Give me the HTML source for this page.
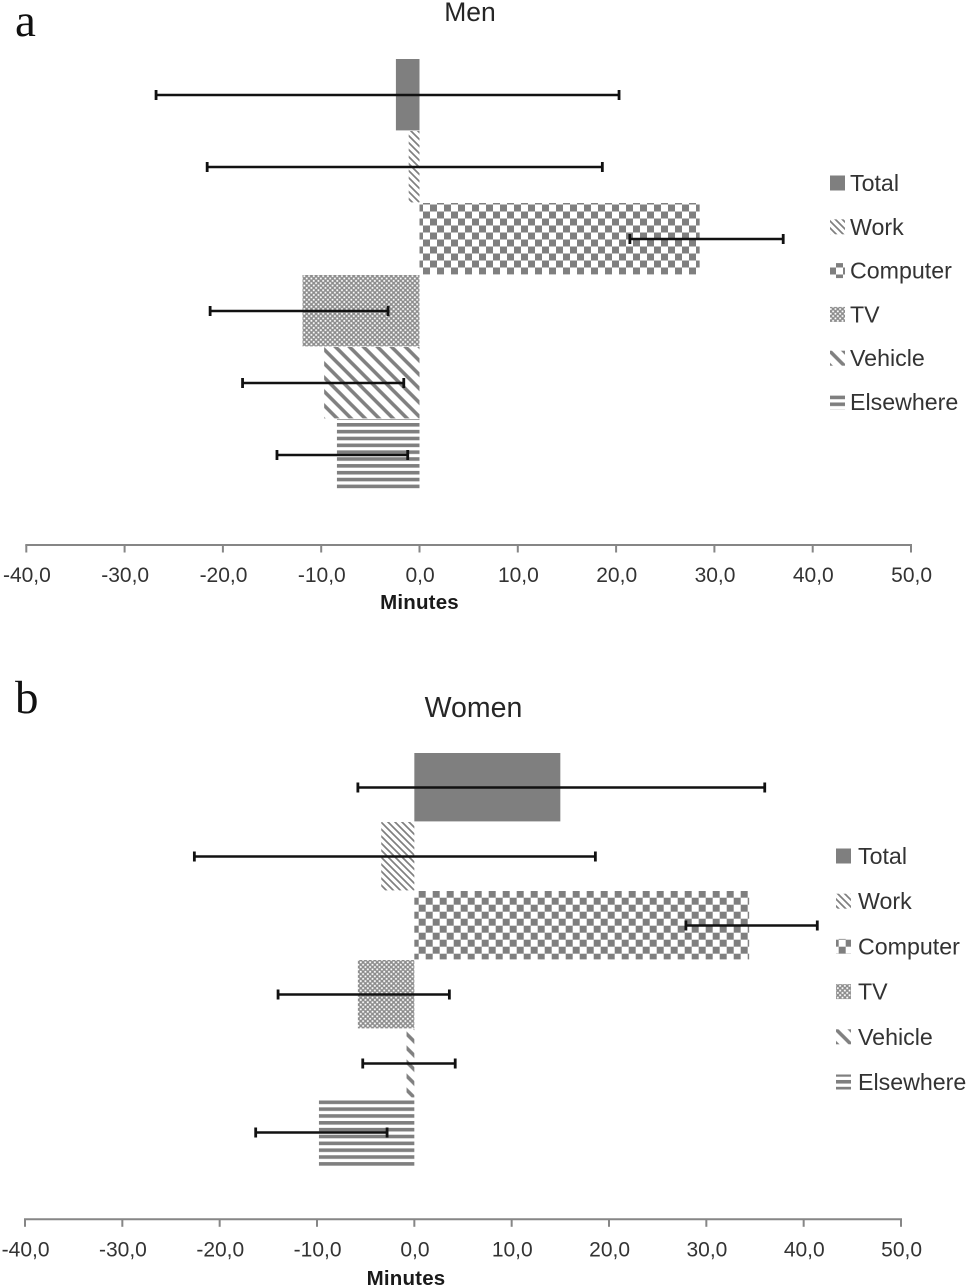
<!DOCTYPE html>
<html>
<head>
<meta charset="utf-8">
<title>Men and Women minutes chart</title>
<style>
html,body{margin:0;padding:0;background:#fff;}
svg{display:block;filter:blur(0.3px);}
text{font-family:"Liberation Sans",sans-serif;fill:#262626;}
</style>
</head>
<body>
<svg id="chart" xmlns="http://www.w3.org/2000/svg" width="967" height="1288" viewBox="0 0 967 1288">
<defs>
<pattern id="p-total" patternUnits="userSpaceOnUse" width="4" height="4"><rect width="4" height="4" fill="#7f7f7f"/></pattern>
<pattern id="p-work" patternUnits="userSpaceOnUse" width="7" height="7"><rect width="7" height="7" fill="#fff"/><path d="M0,0L7,7M-1,6L1,8M6,-1L8,1" stroke="#808080" stroke-width="1.7" fill="none"/></pattern>
<pattern id="p-computer-men" patternUnits="userSpaceOnUse" width="14" height="14" x="416" y="204.5"><rect width="14" height="14" fill="#fff"/><rect x="0" y="0" width="7" height="7" fill="#7f7f7f"/><rect x="7" y="7" width="7" height="7" fill="#7f7f7f"/></pattern>
<pattern id="p-computer-women" patternUnits="userSpaceOnUse" width="14" height="14" x="411.7" y="897.7"><rect width="14" height="14" fill="#fff"/><rect x="0" y="0" width="7" height="7" fill="#7f7f7f"/><rect x="7" y="7" width="7" height="7" fill="#7f7f7f"/></pattern>
<pattern id="p-tv" patternUnits="userSpaceOnUse" width="4.7" height="4.7"><rect width="4.7" height="4.7" fill="#8c8c8c"/><rect x="0.3" y="0.3" width="1.8" height="1.8" fill="#fff"/><rect x="2.65" y="2.65" width="1.8" height="1.8" fill="#fff"/></pattern>
<pattern id="p-vehicle" patternUnits="userSpaceOnUse" width="14" height="14" x="2.7" y="0"><rect width="14" height="14" fill="#fff"/><path d="M0,0L14,14M-3,11L3,17M11,-3L17,3" stroke="#808080" stroke-width="3.6" fill="none"/></pattern>
<pattern id="p-elsewhere" patternUnits="userSpaceOnUse" width="6.8434" height="6.8434" x="0" y="423"><rect width="7" height="7" fill="#fff"/><rect y="0" width="7" height="3.6" fill="#7f7f7f"/></pattern>
</defs>
</svg>
<script>
var categories = ['Total', 'Work', 'Computer', 'TV', 'Vehicle', 'Elsewhere'];
var patternKeys = ['total', 'work', 'computer', 'tv', 'vehicle', 'elsewhere'];
var tickValues = [-40, -30, -20, -10, 0, 10, 20, 30, 40, 50];
var tickLabels = ['-40,0', '-30,0', '-20,0', '-10,0', '0,0', '10,0', '20,0', '30,0', '40,0', '50,0'];
var menValues = [-2.4, -1.1, 28.5, -11.9, -9.7, -8.4];
var menErrLow = [-26.8, -21.6, 21.4, -21.3, -18.0, -14.5];
var menErrHigh = [20.3, 18.6, 37.0, -3.2, -1.6, -1.2];
var womenValues = [15.0, -3.4, 34.4, -5.8, -0.8, -9.8];
var womenErrLow = [-5.8, -22.6, 27.9, -14.0, -5.3, -16.3];
var womenErrHigh = [36.0, 18.6, 41.4, 3.6, 4.2, -2.8];

var svg = document.getElementById('chart');
var NS = 'http://www.w3.org/2000/svg';

function make(tag, attrs, parent) {
  var el = document.createElementNS(NS, tag);
  for (var k in attrs) { el.setAttribute(k, attrs[k]); }
  parent.appendChild(el);
  return el;
}

function drawPanel(p) {
  var g = make('g', {}, svg);
  
  

  function x(v) { return p.x0 + (v - tickValues[0]) * (p.x1 - p.x0) / (tickValues[tickValues.length - 1] - tickValues[0]); }
  function y(i) { return p.top + i * p.band; }
  function fillFor(i) {
    var name = patternKeys[i] === 'computer' ? 'computer-' + p.key : patternKeys[i];
    return 'url(#p-' + name + ')';
  }

  var letter = make('text', {x: 15, y: p.letterY, style: 'font-family:"Liberation Serif",serif;font-size:47px;fill:#111'}, g);
  letter.textContent = p.letter;
  
  

  var title = make('text', {x: p.titleX, y: p.titleY, 'text-anchor': 'middle', style: 'font-size:' + p.titleSize + 'px'}, g);
  title.textContent = p.title;
  
  

  p.values.forEach(function (v, i) {
    var left = Math.min(x(0), x(v));
    var bar = make('rect', {x: left, y: y(i), width: Math.abs(x(v) - x(0)), height: p.band - 0.6, fill: fillFor(i)}, g);
    
    
  });

  p.values.forEach(function (v, i) {
    var cy = y(i) + p.band / 2;
    var eg = make('g', {stroke: '#111', fill: 'none'}, g);
    
    
    make('line', {x1: x(p.low[i]), x2: x(p.high[i]), y1: cy, y2: cy, 'stroke-width': 2.4}, eg);
    make('line', {x1: x(p.low[i]), x2: x(p.low[i]), y1: cy - 5, y2: cy + 5, 'stroke-width': 2.8}, eg);
    make('line', {x1: x(p.high[i]), x2: x(p.high[i]), y1: cy - 5, y2: cy + 5, 'stroke-width': 2.8}, eg);
  });

  var axis = make('line', {x1: x(tickValues[0]) - 1, x2: x(tickValues[tickValues.length - 1]) + 1, y1: p.axisY, y2: p.axisY, stroke: '#868686', 'stroke-width': 2}, g);
  
  

  tickValues.forEach(function (t, i) {
    var tick = make('line', {x1: x(t), x2: x(t), y1: p.axisY, y2: p.axisY + 7.5, stroke: '#868686', 'stroke-width': 2}, g);
    
    
    var label = make('text', {x: x(t) + 0.6, y: p.axisY + 37, 'text-anchor': 'middle', style: 'font-size:21px;fill:#333'}, g);
    label.textContent = tickLabels[i];
    
    
  });

  var axisTitle = make('text', {x: p.axisTitleX, y: p.axisY + p.axisTitleDy, 'text-anchor': 'middle', style: 'font-size:20.5px;font-weight:bold;letter-spacing:0.2px;fill:#1a1a1a'}, g);
  axisTitle.textContent = 'Minutes';
  
  

  categories.forEach(function (c, i) {
    var ly = p.legendY + i * p.legendStep;
    var entry = make('g', {}, g);
    
    
    make('rect', {x: p.legendX, y: ly - 7.5, width: 15, height: 15, fill: fillFor(i)}, entry);
    var t = make('text', {x: p.legendX + p.legendGap, y: ly + 8, style: 'font-size:23.2px;fill:#333'}, entry);
    t.textContent = c;
  });
}

drawPanel({key: 'men', letter: 'a', letterY: 36, title: 'Men', titleX: 470, titleY: 21, titleSize: 26.5,
  values: menValues, low: menErrLow, high: menErrHigh, x0: 26.3, x1: 911, top: 59, band: 72, axisY: 545, axisTitleX: 419.5, axisTitleDy: 64,
  legendX: 830, legendGap: 20, legendY: 183, legendStep: 43.8});
drawPanel({key: 'women', letter: 'b', letterY: 713, title: 'Women', titleX: 473.5, titleY: 717, titleSize: 28.5,
  values: womenValues, low: womenErrLow, high: womenErrHigh, x0: 25, x1: 901, top: 753, band: 69, axisY: 1219.3, axisTitleX: 406, axisTitleDy: 65.5,
  legendX: 836, legendGap: 22, legendY: 856, legendStep: 45.2});
</script>
</body>
</html>
